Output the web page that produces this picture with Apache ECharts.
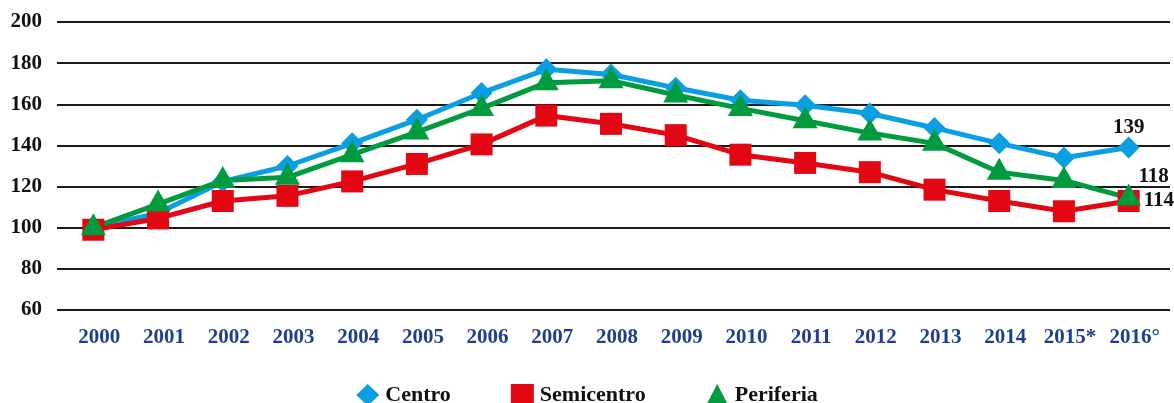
<!DOCTYPE html>
<html>
<head>
<meta charset="utf-8">
<script src="https://cdn.jsdelivr.net/npm/echarts@6/dist/echarts.min.js"></script>
<style>
  html, body { margin: 0; padding: 0; background: #fff; }
  #chart { width: 1174px; height: 403px; }
</style>
</head>
<body>
<div id="chart"></div>
<script>
// dati
var years = ['2000', '2001', '2002', '2003', '2004', '2005', '2006', '2007', '2008', '2009', '2010', '2011', '2012', '2013', '2014', '2015*', '2016°']
var centro = [100, 107, 122.5, 130, 141, 152.5, 165.5, 177, 174.5, 168, 162, 159.5, 155.5, 148.5, 141, 134, 139]
var semicentro = [99, 104.5, 113, 115.5, 122.5, 131, 140.5, 154.5, 150.5, 145, 135.5, 131.5, 127, 118.5, 113, 108, 113]
var periferia = [100, 111.5, 123, 124.5, 135.5, 146.5, 158, 170.5, 171.5, 164.5, 158, 152, 146, 141, 127, 123, 114.5]
var seriesNames = ['Centro', 'Semicentro', 'Periferia']
var lastLabels = ['139', '114', '118']
var yTicks = [60, 200, 20] // min, max, passo

var font = 'Liberation Serif'
var colors = ['#0A9FE3', '#E30613', '#009B3E']

function withLastLabel(values, text, label) {
  var data = values.slice()
  var i = data.length - 1
  data[i] = { value: data[i], label: Object.assign({ show: true, formatter: text }, label) }
  return data
}

var labelStyle = { color: '#111', fontFamily: font, fontWeight: 'bold', fontSize: 21 }

var option = {
  animation: false,
  color: colors,
  legend: {
    top: 379,
    left: 'center',
    itemGap: 60,
    itemWidth: 23,
    itemHeight: 22,
    textStyle: { color: '#111', fontFamily: font, fontWeight: 'bold', fontSize: 22, padding: [0, 0, 0, 1] },
    data: [
      { name: seriesNames[0], icon: 'diamond' },
      { name: seriesNames[1], icon: 'rect' },
      { name: seriesNames[2], icon: 'triangle' }
    ]
  },
  grid: [
    { left: 57, right: 4, top: 22, bottom: 93 },
    { left: 61, right: 13, top: 22, bottom: 93 }
  ],
  xAxis: [
    { gridIndex: 0, type: 'value', min: 0, max: 1, show: false },
    {
      gridIndex: 1,
      type: 'category',
      data: years,
      axisLine: { show: false },
      axisTick: { show: false },
      axisLabel: {
        interval: 0,
        margin: 17,
        padding: [0, 0, 0, 12],
        color: '#203E8F',
        fontFamily: font,
        fontWeight: 'bold',
        fontSize: 21
      }
    }
  ],
  yAxis: [
    {
      gridIndex: 0,
      type: 'value',
      min: yTicks[0],
      max: yTicks[1],
      interval: yTicks[2],
      axisLine: { show: false },
      axisTick: { show: false },
      axisLabel: { margin: 15, color: '#111', fontFamily: font, fontWeight: 'bold', fontSize: 21 },
      splitLine: { lineStyle: { color: '#1a1a1a', width: 2 } }
    },
    { gridIndex: 1, type: 'value', min: yTicks[0], max: yTicks[1], show: false }
  ],
  series: [
    {
      name: seriesNames[0],
      type: 'line',
      xAxisIndex: 1,
      yAxisIndex: 1,
      symbol: 'diamond',
      symbolSize: [22, 22],
      lineStyle: { width: 5 },
      data: withLastLabel(centro, lastLabels[0], Object.assign({ position: 'top', distance: 4, offset: [0, 6] }, labelStyle))
    },
    {
      name: seriesNames[1],
      type: 'line',
      xAxisIndex: 1,
      yAxisIndex: 1,
      symbol: 'rect',
      symbolSize: [22, 22],
      lineStyle: { width: 5 },
      data: withLastLabel(semicentro, lastLabels[1], Object.assign({ position: 'right', distance: 4 }, labelStyle))
    },
    {
      name: seriesNames[2],
      type: 'line',
      xAxisIndex: 1,
      yAxisIndex: 1,
      symbol: 'triangle',
      symbolSize: [25, 22],
      symbolOffset: [0, -3.5],
      lineStyle: { width: 5 },
      data: withLastLabel(periferia, lastLabels[2], Object.assign({ position: 'top', distance: 2, offset: [25, 6] }, labelStyle))
    }
  ]
}

var chart = echarts.init(document.getElementById('chart'))
chart.setOption(option)
</script>
</body>
</html>
